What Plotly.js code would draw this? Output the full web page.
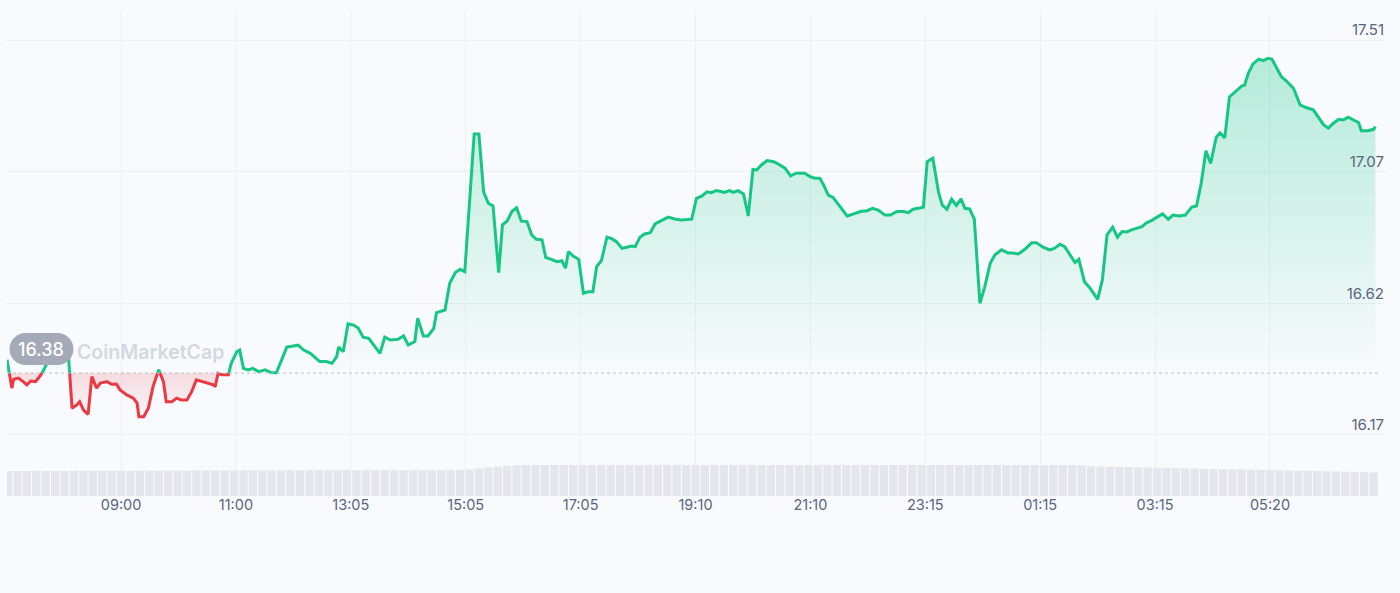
<!DOCTYPE html>
<html>
<head>
<meta charset="utf-8">
<script src="https://cdn.plot.ly/plotly-3.0.1.min.js"></script>
<style>
  html, body { margin: 0; padding: 0; background: #f8fafd; }
  #chart { width: 1400px; height: 593px; }
</style>
</head>
<body>
<div id="chart"></div>
<script>
// Time in minutes since 06:50 (day 1), price in USD
const minutes = [9,14,16,21,26,30,34,39,43,46,51,56,63,69,74,78,83,86,90,95,99,104,108,115,120,125,129,136,143,147,149,154,159,164,170,175,178,184,189,194,200,205,210,217,223,228,230,233,237,244,247,253,256,260,265,270,276,283,290,295,301,306,313,318,324,331,341,348,354,359,361,366,371,377,382,387,393,400,405,410,416,424,430,435,442,445,451,456,462,465,474,479,485,490,495,505,510,515,520,525,531,535,540,545,550,555,561,566,571,577,581,587,593,598,602,605,610,616,621,626,631,635,640,646,651,656,662,667,672,676,681,686,692,697,704,711,718,725,736,741,747,752,757,762,768,771,776,780,785,791,796,801,805,810,816,823,828,835,841,847,856,862,867,872,876,881,886,893,901,908,915,922,928,934,941,947,954,961,966,971,982,986,992,998,1002,1007,1012,1017,1022,1026,1031,1036,1042,1047,1053,1058,1065,1072,1077,1083,1090,1097,1102,1109,1116,1121,1127,1132,1138,1143,1147,1153,1159,1167,1172,1177,1183,1188,1193,1198,1203,1208,1214,1219,1224,1230,1236,1242,1247,1254,1260,1267,1272,1277,1282,1287,1293,1297,1302,1307,1313,1320,1323,1327,1332,1338,1343,1348,1352,1357,1362,1368,1375,1382,1389,1396,1401,1407,1412,1417,1423,1428,1433,1438,1444,1447,1454,1460,1462];

const prices = [16.425,16.329,16.359,16.363,16.351,16.340,16.353,16.351,16.366,16.379,16.413,16.442,16.475,16.465,16.447,16.261,16.272,16.283,16.255,16.240,16.368,16.329,16.346,16.351,16.342,16.343,16.323,16.306,16.295,16.278,16.232,16.232,16.261,16.334,16.391,16.351,16.283,16.283,16.295,16.289,16.289,16.317,16.357,16.351,16.346,16.340,16.334,16.379,16.374,16.374,16.413,16.453,16.458,16.396,16.391,16.396,16.385,16.391,16.381,16.381,16.425,16.468,16.472,16.475,16.458,16.447,16.419,16.419,16.413,16.436,16.468,16.453,16.547,16.543,16.532,16.502,16.498,16.470,16.447,16.502,16.492,16.495,16.506,16.475,16.487,16.566,16.506,16.506,16.532,16.585,16.594,16.685,16.721,16.732,16.724,17.191,17.191,16.995,16.956,16.947,16.721,16.883,16.896,16.928,16.941,16.896,16.894,16.849,16.834,16.832,16.772,16.766,16.758,16.761,16.736,16.792,16.777,16.766,16.651,16.656,16.656,16.741,16.761,16.841,16.836,16.826,16.803,16.807,16.811,16.809,16.841,16.852,16.856,16.886,16.897,16.909,16.903,16.899,16.902,16.973,16.981,16.995,16.992,16.999,16.995,16.993,16.999,16.993,16.999,16.988,16.913,17.071,17.069,17.086,17.101,17.097,17.089,17.075,17.049,17.058,17.058,17.046,17.041,17.041,17.018,16.984,16.976,16.945,16.913,16.920,16.928,16.931,16.939,16.933,16.916,16.916,16.928,16.928,16.924,16.936,16.943,17.097,17.109,16.995,16.950,16.936,16.970,16.949,16.971,16.939,16.937,16.903,16.617,16.671,16.753,16.781,16.798,16.787,16.787,16.784,16.801,16.822,16.822,16.807,16.798,16.803,16.817,16.809,16.781,16.755,16.766,16.690,16.668,16.630,16.696,16.849,16.875,16.841,16.860,16.859,16.866,16.871,16.877,16.890,16.897,16.909,16.920,16.902,16.916,16.913,16.916,16.943,16.947,17.024,17.134,17.091,17.181,17.195,17.178,17.317,17.335,17.354,17.357,17.397,17.429,17.445,17.440,17.448,17.445,17.414,17.386,17.369,17.346,17.290,17.280,17.273,17.248,17.222,17.211,17.227,17.241,17.239,17.248,17.241,17.230,17.202,17.202,17.207,17.216];

const openPrice = 16.38;

// Volume bars (relative units), every 10 minutes
const volMinutes = [10,20,30,40,50,60,70,80,90,100,110,120,130,140,150,160,170,180,190,200,210,220,230,240,250,260,270,280,290,300,310,320,330,340,350,360,370,380,390,400,410,420,430,440,450,460,470,480,490,500,510,520,530,540,550,560,570,580,590,600,610,620,630,640,650,660,670,680,690,700,710,720,730,740,750,760,770,780,790,800,810,820,830,840,850,860,870,880,890,900,910,920,930,940,950,960,970,980,990,1000,1010,1020,1030,1040,1050,1060,1070,1080,1090,1100,1110,1120,1130,1140,1150,1160,1170,1180,1190,1200,1210,1220,1230,1240,1250,1260,1270,1280,1290,1300,1310,1320,1330,1340,1350,1360,1370,1380,1390,1400,1410,1420,1430,1440,1450,1460];
const volumes = [250,250,250,251,251,251,251,252,252,252,252,253,253,253,253,254,254,254,254,254,255,255,255,255,255,256,256,256,256,256,257,257,257,257,257,257,258,258,258,258,258,258,259,259,259,259,260,260,261,266,276,286,295,302,306,309,310,310,310,311,311,311,311,312,312,312,312,312,312,312,312,312,312,312,312,312,312,312,312,312,311,311,311,311,311,311,311,311,311,311,311,311,311,310,310,310,310,310,310,310,310,310,310,310,310,310,309,309,309,309,309,309,309,309,308,296,295,293,291,289,287,285,283,281,279,277,275,273,271,269,267,265,263,261,259,257,255,253,251,249,247,245,243,241,238,236];

const xTickVals = [130,252,374,496,618,740,862,984,1106,1228,1350];
const xTickText = ['09:00','11:00','13:05','15:05','17:05','19:10','21:10','23:15','01:15','03:15','05:20'];
const yTickVals = [16.17, 16.6167, 17.0633, 17.51];
const yTickText = ['16.17','16.62','17.07','17.51'];

// Split the line at the opening-price level (green above, red below)
const xs = [], ys = [];
for (let i = 0; i < minutes.length; i++) {
  xs.push(minutes[i]); ys.push(prices[i]);
  if (i < minutes.length - 1) {
    const a = prices[i] - openPrice, b = prices[i + 1] - openPrice;
    if (a * b < 0) {
      const f = (openPrice - prices[i]) / (prices[i + 1] - prices[i]);
      xs.push(minutes[i] + f * (minutes[i + 1] - minutes[i]));
      ys.push(openPrice);
    }
  }
}
const base = ys.map(() => openPrice);
const upFill = ys.map(v => Math.max(v, openPrice));
const downFill = ys.map(v => Math.min(v, openPrice));
const upLine = ys.map(v => v >= openPrice ? v : null);
const downLine = ys.map(v => v <= openPrice ? v : null);

const GREEN = '#16c784', RED = '#ea3943';

const traces = [
  { x: volMinutes, y: volumes, type: 'bar', yaxis: 'y2',
    marker: { color: '#e4e6ed', line: { width: 0 } }, hoverinfo: 'skip' },
  { x: xs, y: base, mode: 'lines', line: { width: 0 }, hoverinfo: 'skip' },
  { x: xs, y: upFill, mode: 'lines', line: { width: 0 }, fill: 'tonexty',
    fillgradient: { type: 'vertical', start: openPrice, stop: 17.45,
      colorscale: [[0, 'rgba(22,199,132,0.0)'], [1, 'rgba(22,199,132,0.30)']] },
    hoverinfo: 'skip' },
  { x: xs, y: base, mode: 'lines', line: { width: 0 }, hoverinfo: 'skip' },
  { x: xs, y: downFill, mode: 'lines', line: { width: 0 }, fill: 'tonexty',
    fillgradient: { type: 'vertical', start: 16.23, stop: openPrice,
      colorscale: [[0, 'rgba(234,57,67,0.02)'], [1, 'rgba(234,57,67,0.16)']] },
    hoverinfo: 'skip' },
  { x: xs, y: upLine, mode: 'lines', connectgaps: false,
    line: { color: GREEN, width: 3 }, hoverinfo: 'skip' },
  { x: xs, y: downLine, mode: 'lines', connectgaps: false,
    line: { color: RED, width: 3 }, hoverinfo: 'skip' }
];

const pill = 'M -16 -16 L 16 -16 C 24.84 -16 32 -8.84 32 0 C 32 8.84 24.84 16 16 16 L -16 16 C -24.84 16 -32 8.84 -32 0 C -32 -8.84 -24.84 -16 -16 -16 Z';

const layout = {
  width: 1400, height: 593,
  margin: { l: 7, r: 14, t: 12, b: 97 },
  paper_bgcolor: '#f8fafd', plot_bgcolor: '#f8fafd',
  showlegend: false,
  bargap: 0.12,
  font: { family: 'Inter, "Noto Sans", sans-serif', color: '#58667e', size: 14 },
  xaxis: {
    range: [8.9, 1473.2], tickmode: 'array', tickvals: xTickVals, ticktext: xTickText,
    showgrid: true, gridcolor: '#eceff4', gridwidth: 1, zeroline: false, showline: false,
    ticks: '', tickfont: { size: 14.5, color: '#58667e' }, ticklabelstandoff: -2, fixedrange: true
  },
  yaxis: {
    range: [15.963, 17.605], side: 'right', tickmode: 'array', tickvals: yTickVals, ticktext: yTickText,
    ticklabelposition: 'inside', ticklabelshift: -10, ticklabelstandoff: -1,
    showgrid: true, gridcolor: '#eceff4', gridwidth: 1, zeroline: false, showline: false,
    ticks: '', tickfont: { size: 15, color: '#58667e' }, fixedrange: true
  },
  yaxis2: { overlaying: 'y', range: [0, 4840], visible: false, fixedrange: true },
  shapes: [
    { type: 'line', xref: 'paper', yref: 'y', x0: 0, x1: 0.9956, y0: openPrice, y1: openPrice,
      line: { color: '#b9c0cc', width: 1, dash: 'dot' }, layer: 'above' },
    { type: 'path', xref: 'paper', yref: 'paper', xsizemode: 'pixel', ysizemode: 'pixel',
      xanchor: 0.025, yanchor: 0.3037, path: pill,
      fillcolor: '#a4aab7', line: { width: 0 }, layer: 'above' }
  ],
  annotations: [
    { xref: 'paper', yref: 'paper', x: 0.1044, y: 0.2975, xanchor: 'center', yanchor: 'middle',
      text: 'CoinMarketCap', showarrow: false,
      font: { size: 19.5, color: '#d4d8e0', family: 'Inter, sans-serif', weight: 600 } },
    { xref: 'paper', yref: 'paper', x: 0.025, y: 0.3037, xanchor: 'center', yanchor: 'middle',
      text: '16.38', showarrow: false,
      font: { size: 18, color: '#ffffff', family: 'Inter, sans-serif', weight: 500 } }
  ]
};

Plotly.newPlot('chart', traces, layout, { staticPlot: true, displayModeBar: false });
</script>
</body>
</html>
